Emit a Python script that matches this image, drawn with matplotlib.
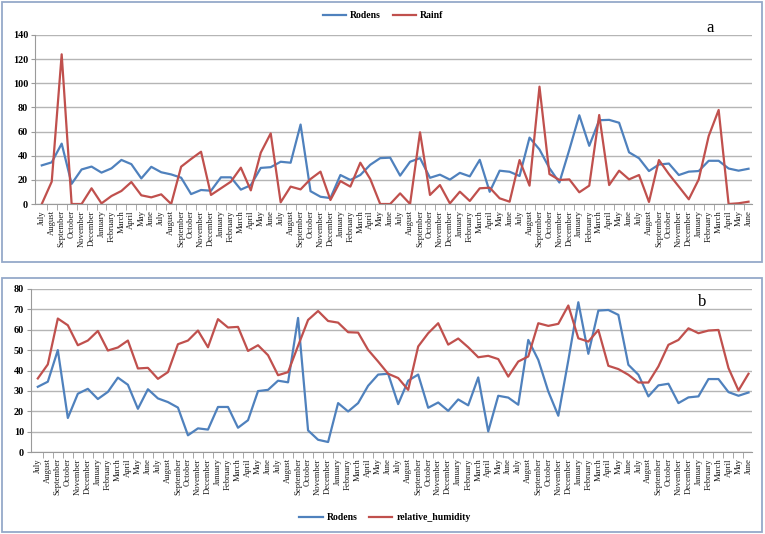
import matplotlib
matplotlib.use("Agg")
import matplotlib.pyplot as plt
from matplotlib.patches import Rectangle
import numpy as np

# month labels, July .. June repeated over six seasons
season = ['July', 'August', 'September', 'October', 'November', 'December',
          'January', 'February', 'March', 'April', 'May', 'June']
months = season * 6

rodens = [32, 34.5, 50, 16.7, 28.6, 31, 26, 29.5, 36.5, 33, 21.2, 30.8,
          26.3, 24.5, 21.8, 8.2, 11.6, 11, 22.1, 22.1, 11.9, 15.6, 29.9, 30.5,
          35, 34.2, 65.8, 10.6, 6, 4.9, 24, 19.9, 24, 32.5, 38, 38.4,
          23.5, 35, 38, 21.7, 24.3, 20.2, 25.8, 22.9, 36.6, 10.1, 27.6, 26.7,
          23.2, 55, 45.2, 29.7, 17.8, 45, 73.5, 48.2, 69.4, 69.7, 67.3, 42.8,
          37.9, 27.3, 32.7, 33.5, 24, 26.8, 27.3, 35.8, 35.8, 29.4, 27.6, 29.2]

rainf = [0, 18.5, 124, 0, 0, 13, 0.5, 6.6, 10.8, 18.2, 7.2, 5.5,
         8, 0, 30.9, 37.3, 43.3, 7.5, 13, 18.5, 30.1, 11.3, 42.5, 58.5,
         1.4, 14.4, 12.1, 20.7, 26.8, 3.3, 19, 14.4, 34.2, 20.7, 0, 0,
         8.8, 0, 59.4, 7.5, 15.7, 0.5, 10.2, 2.5, 13, 13.5, 4.7, 1.9,
         36.4, 15.2, 97.2, 24.8, 19.9, 20.4, 9.7, 15.2, 73.7, 15.7, 27.6, 20.4,
         24, 1.7, 36.4, 24.8, 14.4, 3.9, 20.4, 56.3, 77.9, 0, 0.6, 1.9]

humidity = [36.1, 43, 65.5, 62.2, 52.4, 54.7, 59.4, 49.8, 51.3, 54.7, 41, 41.3,
            35.9, 39.2, 52.9, 54.7, 59.6, 51.4, 65.2, 61.1, 61.4, 49.6, 52.4, 47.5,
            37.7, 39.2, 52.1, 64.8, 69.2, 64.3, 63.5, 58.8, 58.6, 50.1, 44.4, 38.4,
            36.3, 30.5, 51.8, 58.3, 63.2, 52.7, 55.7, 51.4, 46.5, 47.2, 45.6, 37,
            44.4, 46.9, 63.2, 61.9, 62.9, 71.9, 55.8, 54.2, 59.9, 42.3, 40.7, 37.9,
            34.1, 34.1, 42, 52.6, 55, 60.7, 58.3, 59.6, 59.9, 41.2, 30.2, 38.4]

W, H = 765, 534
BLUE = '#4F81BD'
RED = '#C0504D'
SERIF = 'Liberation Serif'

fig = plt.figure(figsize=(W / 100, H / 100), dpi=100)


def px_axes(left, top, right, bottom):
    # axes from pixel box (y measured from top)
    return fig.add_axes([left / W, (H - bottom) / H, (right - left) / W, (bottom - top) / H])


def frame(left, top, right, bottom):
    r = Rectangle((left / W, (H - bottom) / H), (right - left) / W, (bottom - top) / H,
                  transform=fig.transFigure, fill=False, edgecolor='#95A9C9', lw=1.3)
    fig.patches.append(r)


def style_axes(ax, ymax, ystep):
    x = np.arange(len(months))
    ax.set_xlim(-0.68, 71.35)
    ax.set_ylim(0, ymax)
    ax.set_yticks(np.arange(0, ymax + 1, ystep))
    ax.grid(axis='y', color='#B5B5B5', lw=1.0)
    ax.set_axisbelow(True)
    for s in ['top', 'right']:
        ax.spines[s].set_visible(False)
    ax.spines['left'].set_color('#9A9A9A')
    ax.spines['bottom'].set_color('#9A9A9A')
    ax.set_xticks(x)
    ax.set_xticklabels(months, rotation=90, fontsize=6.2, family=SERIF, color='#1a1a1a')
    ax.set_xticks(x[:-1] + 0.5, minor=True)
    ax.tick_params(axis='x', which='major', length=0, pad=4.5)
    ax.tick_params(axis='x', which='minor', length=4, color='#9A9A9A')
    ax.tick_params(axis='y', length=3, color='#9A9A9A', pad=2)
    for lbl in ax.get_yticklabels():
        lbl.set_family(SERIF)
        lbl.set_fontweight('bold')
        lbl.set_fontsize(7.3)


# panel a: rodens and rainfall
frame(2, 2, 762, 262)
ax1 = px_axes(35, 35, 752, 204)
x = np.arange(len(months))
ax1.plot(x, rodens, color=BLUE, lw=1.6, label='Rodens')
ax1.plot(x, rainf, color=RED, lw=1.6, label='Rainf')
style_axes(ax1, 140, 20)
ax1.legend(loc='center', bbox_to_anchor=(383 / W, (H - 16) / H), bbox_transform=fig.transFigure,
           ncol=2, frameon=False, prop={'family': SERIF, 'weight': 'bold', 'size': 7},
           handlelength=2.4, columnspacing=1.2, handletextpad=0.4)
fig.text(710 / W, (H - 28) / H, 'a', family=SERIF, fontsize=12, ha='center', va='center')

# panel b: rodens and relative humidity
frame(2, 278, 762, 532)
ax2 = px_axes(31, 289, 752, 452)
ax2.plot(x, rodens, color=BLUE, lw=1.6, label='Rodens')
ax2.plot(x, humidity, color=RED, lw=1.6, label='relative_humidity')
style_axes(ax2, 80, 10)
ax2.legend(loc='center', bbox_to_anchor=(385 / W, (H - 518) / H), bbox_transform=fig.transFigure,
           ncol=2, frameon=False, prop={'family': SERIF, 'weight': 'bold', 'size': 7},
           handlelength=2.4, columnspacing=1.2, handletextpad=0.4)
fig.text(702 / W, (H - 302) / H, 'b', family=SERIF, fontsize=12, ha='center', va='center')

fig.savefig('out.png', dpi=100)
